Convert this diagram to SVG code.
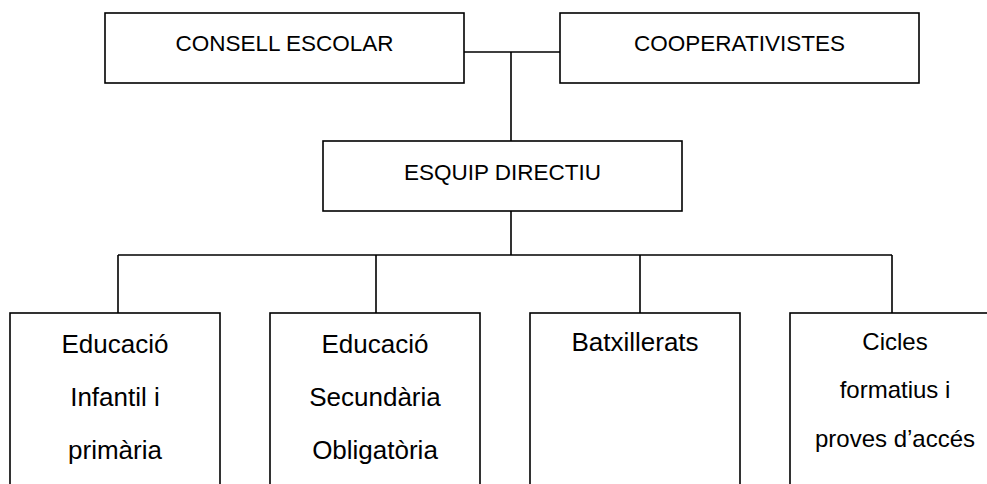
<svg xmlns="http://www.w3.org/2000/svg" width="987" height="484" viewBox="0 0 987 484">
<style>
.box{fill:#fff;stroke:#000;stroke-width:1.6}
.ln{fill:none;stroke:#000;stroke-width:1.6}
text{font-family:"Liberation Sans",Arial,sans-serif;fill:#000;text-anchor:middle}
.t{font-size:22.5px}
.b{font-size:26px}
.c{font-size:24px}
</style>
<rect width="987" height="484" fill="#fff"/>
<g id="connectors">
<path class="ln" d="M464,52 H560 M511,52 V141 M511,211 V255 M118,255 H892 M118,255 V313 M376,255 V313 M640,255 V313 M892,255 V313"/>
</g>
<g id="consell">
<rect class="box" x="105" y="13" width="359" height="70"/>
<text class="t" x="284.5" y="51">CONSELL ESCOLAR</text>
</g>
<g id="cooperativistes">
<rect class="box" x="560" y="13" width="359" height="70"/>
<text class="t" x="739.5" y="51">COOPERATIVISTES</text>
</g>
<g id="esquip">
<rect class="box" x="323" y="141" width="359" height="70"/>
<text class="t" x="502.5" y="180">ESQUIP DIRECTIU</text>
</g>
<g id="infantil">
<rect class="box" x="10" y="313" width="210" height="190"/>
<text class="b" x="115" y="353">Educació</text>
<text class="b" x="115" y="406">Infantil i</text>
<text class="b" x="115" y="459">primària</text>
</g>
<g id="eso">
<rect class="box" x="270" y="313" width="210" height="190"/>
<text class="b" x="375" y="353">Educació</text>
<text class="b" x="375" y="406">Secundària</text>
<text class="b" x="375" y="459">Obligatòria</text>
</g>
<g id="batxillerats">
<rect class="box" x="530" y="313" width="210" height="190"/>
<text class="b" x="635" y="351">Batxillerats</text>
</g>
<g id="cicles">
<rect class="box" x="790" y="313" width="210" height="190"/>
<text class="c" x="895" y="350">Cicles</text>
<text class="c" x="895" y="398">formatius i</text>
<text class="c" x="895" y="447">proves d’accés</text>
</g>
</svg>
